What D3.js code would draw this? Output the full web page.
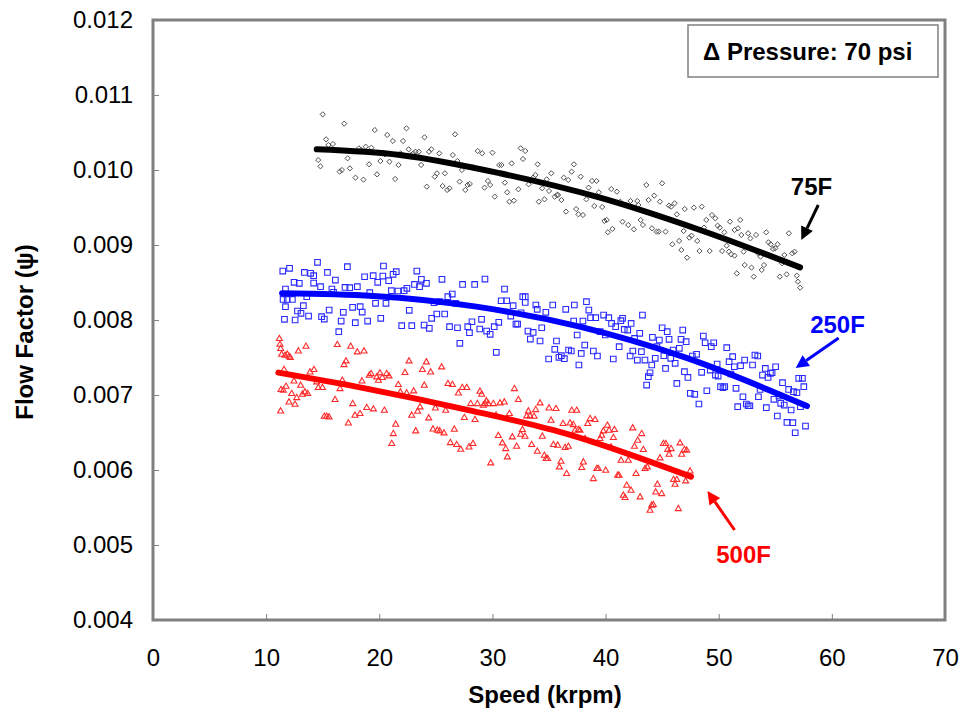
<!DOCTYPE html>
<html><head><meta charset="utf-8">
<script src="https://cdn.jsdelivr.net/npm/d3@7"></script>
<style>html,body{margin:0;padding:0;background:#fff}svg{display:block}</style>
</head><body>
<svg id="chart" width="960" height="711"></svg>
<script>
// ---- data (speed krpm, flow factor) ----
const xTicks = [0,10,20,30,40,50,60,70];
const yTicks = [0.004,0.005,0.006,0.007,0.008,0.009,0.010,0.011,0.012];
const seriesNames = ["75F","250F","500F"];
const legendText = "\u0394 Pressure: 70 psi";

const pts75 = [[15.0,0.010742],[16.9,0.010618],[15.3,0.010409],[15.5,0.010333],[15.9,0.010347],[14.6,0.010133],[14.8,0.010049],[16.5,0.009978],[16.7,0.010000],[17.2,0.010156],[17.4,0.010022],[17.9,0.009898],[18.2,0.010289],[18.4,0.010267],[18.8,0.010311],[19.3,0.010298],[18.6,0.009871],[19.1,0.010076],[19.6,0.010533],[19.8,0.009942],[20.1,0.010120],[20.5,0.010209],[20.7,0.010467],[20.9,0.010111],[21.2,0.010387],[21.4,0.009880],[21.7,0.010067],[21.9,0.010222],[22.1,0.010387],[22.4,0.010556],[22.6,0.010276],[22.8,0.010200],[23.0,0.010222],[23.2,0.010244],[23.5,0.010244],[23.7,0.010067],[24.0,0.010436],[24.2,0.009778],[24.4,0.010244],[24.6,0.010276],[24.9,0.009911],[25.1,0.009956],[25.3,0.010222],[25.6,0.009787],[25.8,0.009956],[26.0,0.009734],[26.2,0.009756],[26.5,0.010200],[26.7,0.010476],[26.9,0.010120],[27.1,0.009845],[27.3,0.010000],[27.6,0.009734],[27.8,0.009800],[28.0,0.009814],[28.3,0.010036],[28.7,0.010254],[29.1,0.010222],[29.3,0.009765],[29.6,0.009854],[29.8,0.009800],[30.0,0.010231],[30.2,0.009645],[30.6,0.010067],[30.8,0.010067],[31.1,0.009831],[31.3,0.009703],[31.5,0.009578],[31.7,0.010089],[31.9,0.009591],[32.3,0.009743],[32.5,0.010289],[32.7,0.010147],[32.9,0.010254],[33.2,0.009809],[33.6,0.009898],[33.8,0.009934],[34.0,0.010076],[34.1,0.009578],[34.4,0.009756],[34.6,0.009609],[34.8,0.009876],[35.0,0.009720],[35.2,0.009956],[35.5,0.009645],[35.7,0.009667],[35.8,0.009667],[36.1,0.009600],[36.3,0.009898],[36.5,0.009445],[36.7,0.009867],[37.0,0.009978],[37.2,0.010076],[37.4,0.009480],[37.6,0.009409],[37.8,0.009911],[38.0,0.009400],[38.3,0.009609],[38.5,0.009765],[38.8,0.009854],[39.0,0.009520],[39.2,0.009854],[39.4,0.009703],[39.7,0.009507],[39.9,0.009320],[40.1,0.009334],[40.2,0.009169],[40.5,0.009747],[40.6,0.009214],[41.0,0.009711],[41.3,0.009578],[41.5,0.009311],[41.8,0.009534],[42.0,0.009267],[42.2,0.009587],[42.5,0.009209],[42.8,0.009587],[42.9,0.009534],[43.1,0.009334],[43.3,0.009267],[43.6,0.009800],[43.8,0.009600],[44.1,0.009223],[44.3,0.009658],[44.5,0.009178],[44.7,0.009178],[44.8,0.009578],[45.0,0.009823],[45.3,0.009178],[45.6,0.009525],[45.8,0.009511],[45.9,0.009009],[46.1,0.009556],[46.3,0.009409],[46.5,0.009054],[46.7,0.008934],[46.9,0.009187],[47.0,0.009480],[47.2,0.008831],[47.4,0.009098],[47.6,0.009125],[47.8,0.009498],[48.1,0.009054],[48.3,0.008920],[48.5,0.009511],[48.7,0.009231],[48.9,0.009334],[49.2,0.008920],[49.4,0.009400],[49.7,0.009356],[49.9,0.009258],[50.1,0.009231],[50.3,0.008920],[50.5,0.009169],[50.7,0.008991],[50.9,0.008911],[51.0,0.009311],[51.1,0.008876],[51.4,0.008858],[51.4,0.009200],[51.6,0.008622],[51.7,0.009223],[51.9,0.009334],[52.0,0.009134],[52.2,0.008911],[52.3,0.008733],[52.6,0.009156],[52.8,0.009089],[52.9,0.008698],[53.1,0.008578],[53.3,0.009134],[53.5,0.008889],[53.7,0.008845],[53.8,0.008667],[54.0,0.008733],[54.2,0.009169],[54.4,0.009036],[54.6,0.009009],[54.8,0.008947],[55.0,0.008956],[55.2,0.009009],[55.4,0.008578],[55.6,0.008756],[55.8,0.008867],[56.0,0.008609],[56.2,0.009156],[56.5,0.008889],[56.7,0.008911],[56.9,0.008591],[57.0,0.008511],[57.2,0.008431]];

const pts250 = [[11.47,0.008653],[12.07,0.008689],[11.71,0.008413],[11.50,0.008275],[11.86,0.008275],[12.32,0.008275],[11.71,0.008178],[11.62,0.008009],[12.77,0.008120],[12.56,0.008000],[13.08,0.008089],[13.29,0.008191],[12.47,0.008502],[12.93,0.008489],[13.38,0.008635],[13.93,0.008622],[14.20,0.008591],[14.20,0.008493],[14.54,0.008769],[13.59,0.008311],[13.75,0.008053],[14.81,0.008444],[14.90,0.008044],[15.14,0.008013],[15.42,0.008635],[15.57,0.008133],[15.81,0.008413],[15.96,0.008369],[16.12,0.008533],[16.42,0.007844],[16.63,0.007986],[16.82,0.008102],[17.18,0.008711],[16.97,0.008435],[17.39,0.008431],[17.64,0.008169],[17.88,0.007964],[18.06,0.008444],[18.31,0.008178],[18.49,0.008106],[18.70,0.008577],[18.97,0.007986],[19.16,0.008364],[19.46,0.008591],[19.67,0.008222],[19.86,0.008502],[20.13,0.008022],[20.37,0.008720],[20.31,0.008586],[20.59,0.008222],[20.83,0.008524],[21.07,0.008391],[21.22,0.008609],[21.50,0.008644],[21.65,0.008387],[21.98,0.007924],[22.20,0.008391],[22.44,0.008422],[22.65,0.008129],[22.87,0.007924],[23.11,0.008475],[23.32,0.008653],[23.56,0.008444],[23.72,0.008542],[23.96,0.007933],[24.17,0.008489],[24.42,0.007889],[24.63,0.008022],[24.84,0.008231],[25.08,0.008080],[25.33,0.008244],[25.54,0.008542],[25.78,0.008080],[26.06,0.008311],[26.21,0.007911],[26.45,0.008346],[26.76,0.008222],[26.91,0.007897],[27.12,0.007689],[27.36,0.008475],[27.82,0.007911],[27.97,0.007831],[28.19,0.007977],[28.43,0.008475],[28.88,0.007880],[29.04,0.008009],[29.34,0.008546],[29.49,0.007853],[29.80,0.007809],[30.16,0.007911],[30.34,0.007569],[30.56,0.007969],[30.77,0.008257],[31.07,0.008413],[31.26,0.008257],[31.62,0.008053],[31.83,0.008191],[32.08,0.007946],[32.23,0.007946],[32.53,0.008097],[32.68,0.008311],[32.90,0.008311],[32.90,0.008235],[33.14,0.007853],[33.35,0.007746],[33.60,0.007835],[33.84,0.008200],[33.96,0.008142],[34.21,0.007720],[34.36,0.007897],[34.72,0.008102],[34.97,0.007480],[35.33,0.008200],[35.51,0.007609],[35.66,0.007720],[35.88,0.007502],[36.09,0.007524],[36.36,0.007484],[36.48,0.008142],[36.73,0.007600],[36.97,0.007587],[37.18,0.007986],[37.24,0.008200],[37.49,0.007800],[37.64,0.007400],[37.85,0.007555],[38.00,0.007986],[38.16,0.007666],[38.31,0.008244],[38.52,0.008133],[38.67,0.008031],[38.92,0.007587],[39.13,0.008031],[39.28,0.007520],[39.52,0.007844],[39.83,0.008066],[39.98,0.007800],[40.28,0.008031],[40.53,0.007955],[40.68,0.007480],[40.89,0.007911],[41.20,0.007644],[41.35,0.007991],[41.50,0.008022],[41.65,0.007875],[41.96,0.007866],[42.17,0.007520],[42.26,0.007955],[42.41,0.007587],[42.56,0.007755],[42.81,0.007466],[43.02,0.007822],[43.17,0.007578],[43.26,0.008066],[43.48,0.007466],[43.63,0.007133],[43.78,0.007244],[43.93,0.007297],[44.08,0.007400],[44.14,0.007769],[44.39,0.007489],[44.54,0.007644],[44.75,0.007733],[45.00,0.007897],[45.15,0.007524],[45.30,0.007355],[45.45,0.007844],[45.61,0.007742],[45.76,0.007489],[45.97,0.007600],[46.15,0.007422],[46.30,0.007155],[46.52,0.007622],[46.67,0.007742],[46.82,0.007866],[46.97,0.007311],[47.12,0.007711],[47.28,0.007235],[47.49,0.007022],[47.67,0.007520],[47.88,0.007009],[48.04,0.007542],[48.25,0.006880],[48.49,0.007302],[48.64,0.007786],[48.80,0.007697],[48.95,0.007057],[49.25,0.007333],[49.34,0.007644],[49.56,0.007697],[49.71,0.007266],[49.86,0.007413],[49.95,0.007253],[50.16,0.007111],[50.38,0.007097],[50.53,0.007111],[50.71,0.007631],[50.92,0.007444],[51.08,0.007280],[51.23,0.007511],[51.38,0.007377],[51.53,0.007089],[51.68,0.006844],[51.93,0.007391],[52.14,0.006977],[52.29,0.007466],[52.44,0.006880],[52.60,0.006857],[52.75,0.006857],[52.99,0.007400],[53.20,0.007533],[53.45,0.007520],[53.51,0.006977],[53.66,0.007075],[53.87,0.007266],[54.12,0.007355],[54.21,0.006831],[54.36,0.007235],[54.57,0.007289],[54.72,0.007297],[54.88,0.006942],[55.03,0.007377],[55.18,0.006720],[55.33,0.006986],[55.48,0.006889],[55.64,0.007164],[55.79,0.006866],[56.03,0.006635],[56.18,0.007075],[56.40,0.006800],[56.55,0.006631],[56.61,0.007044],[56.76,0.006497],[56.91,0.007031],[57.07,0.007222],[57.22,0.006844],[57.40,0.007222],[57.52,0.007111],[57.67,0.006586]];

const pts500 = [[11.17,0.007756],[11.22,0.007680],[11.28,0.007623],[11.37,0.007547],[11.67,0.007533],[11.87,0.007547],[12.02,0.007520],[12.14,0.007503],[12.85,0.007591],[13.52,0.007653],[11.58,0.007343],[11.31,0.007076],[11.52,0.007067],[11.76,0.007120],[11.28,0.006791],[12.02,0.006911],[12.26,0.007023],[12.46,0.007191],[12.55,0.006880],[12.70,0.006969],[13.05,0.007134],[13.20,0.007014],[13.43,0.007045],[13.67,0.007023],[13.88,0.007311],[14.23,0.007343],[14.47,0.007178],[14.61,0.007103],[14.97,0.007103],[15.14,0.006720],[15.35,0.006720],[15.56,0.006711],[16.09,0.006943],[16.29,0.007676],[16.53,0.007089],[16.73,0.007200],[16.88,0.007409],[17.06,0.007458],[17.27,0.006631],[17.47,0.007653],[17.65,0.006889],[17.85,0.006734],[18.06,0.007578],[18.30,0.006756],[18.47,0.007191],[18.65,0.007591],[18.89,0.006836],[19.12,0.007267],[19.27,0.007289],[19.48,0.006818],[19.77,0.007245],[19.92,0.007200],[20.06,0.007298],[20.27,0.007236],[20.45,0.006800],[20.65,0.007289],[20.86,0.007258],[21.10,0.006356],[21.24,0.006489],[21.45,0.006614],[21.68,0.007143],[21.86,0.007045],[22.27,0.007303],[22.42,0.007031],[22.63,0.007458],[22.86,0.006734],[23.04,0.007058],[23.22,0.006525],[23.39,0.006787],[23.60,0.006845],[23.81,0.007343],[23.98,0.007134],[24.16,0.007445],[24.37,0.006698],[24.54,0.007311],[24.75,0.006551],[24.96,0.006831],[25.13,0.006534],[25.34,0.006525],[25.51,0.007378],[25.72,0.006498],[25.87,0.006800],[26.07,0.007156],[26.28,0.006369],[26.46,0.007143],[26.63,0.006547],[26.84,0.006343],[26.99,0.007031],[27.20,0.006280],[27.34,0.007103],[27.52,0.006703],[27.73,0.007103],[27.93,0.006311],[28.08,0.006889],[28.28,0.006356],[28.46,0.006676],[28.67,0.006889],[28.90,0.007054],[29.05,0.007014],[29.20,0.006867],[29.35,0.006889],[29.46,0.006925],[29.64,0.006889],[29.85,0.006098],[30.08,0.006889],[30.32,0.006734],[30.52,0.006463],[30.67,0.006898],[30.88,0.006365],[31.05,0.006911],[31.17,0.006289],[31.32,0.006178],[31.50,0.006756],[31.76,0.006445],[31.94,0.007089],[32.14,0.006320],[32.29,0.006943],[32.50,0.006480],[32.65,0.006543],[32.88,0.006454],[33.03,0.006725],[33.18,0.006791],[33.32,0.006725],[33.47,0.006343],[33.68,0.006720],[33.82,0.006809],[33.97,0.006254],[34.21,0.006898],[34.41,0.006454],[34.59,0.006200],[34.74,0.006156],[34.88,0.006156],[35.00,0.006831],[35.18,0.006667],[35.39,0.006343],[35.62,0.006823],[35.77,0.006334],[35.92,0.006045],[36.06,0.006120],[36.24,0.006623],[36.42,0.006303],[36.56,0.005956],[36.71,0.006320],[36.86,0.006631],[37.01,0.006800],[37.15,0.006609],[37.30,0.006534],[37.45,0.006800],[37.60,0.006543],[37.74,0.006534],[37.89,0.006036],[38.04,0.006111],[38.19,0.006423],[38.42,0.006623],[38.63,0.006689],[38.92,0.005889],[39.07,0.006676],[39.22,0.006023],[39.36,0.006023],[39.51,0.006423],[39.66,0.006467],[39.80,0.006525],[40.01,0.006000],[40.16,0.006600],[40.31,0.006534],[40.48,0.006311],[40.69,0.006436],[40.78,0.006543],[41.07,0.005934],[41.19,0.005934],[41.37,0.006134],[41.57,0.005667],[41.72,0.005636],[41.87,0.005800],[42.01,0.006134],[42.25,0.005734],[42.40,0.006565],[42.55,0.006320],[42.69,0.005956],[42.84,0.006400],[43.05,0.005645],[43.19,0.006489],[43.34,0.006276],[43.49,0.006023],[43.69,0.006045],[43.93,0.005467],[44.08,0.005534],[44.22,0.005543],[44.43,0.005711],[44.58,0.005814],[44.81,0.006165],[44.96,0.005689],[45.11,0.006356],[45.32,0.006356],[45.49,0.006276],[45.61,0.006214],[45.79,0.006289],[46.01,0.005876],[46.14,0.005814],[46.29,0.005876],[46.43,0.005489],[46.58,0.006365],[46.73,0.006214],[46.97,0.006276],[47.17,0.006267],[47.08,0.005858],[47.47,0.005991]];

// trend curves
const trend75 = [[14.47,0.010276],[21.83,0.010200],[30.67,0.009956],[39.51,0.009631],[48.35,0.009200],[57.19,0.008702]];
const trend250 = [[11.41,0.008356],[19.46,0.008320],[28.58,0.008178],[37.71,0.007911],[46.83,0.007511],[57.80,0.006853]];
const trend500 = [[11.08,0.007298],[18.74,0.007089],[27.58,0.006809],[36.42,0.006489],[47.55,0.005911]];

// annotation anchors (data units): label pos, arrow start, arrow end
const labelPos = [[58.2,0.009667],[60.5,0.007827],[52.2,0.004760]];
const arrowFrom = [[58.8,0.009533],[60.6,0.007760],[51.4,0.005200]];
const arrowTo = [[57.3,0.009067],[56.8,0.007360],[49.0,0.005720]];

// ---- drawing ----
const svg = d3.select("#chart");
const M = {left:153, top:20, right:945, bottom:620};
const x = d3.scaleLinear().domain([0,70]).range([M.left, M.right]);
const y = d3.scaleLinear().domain([0.004,0.012]).range([M.bottom, M.top]);
const FONT = "Liberation Sans, Arial, Helvetica, sans-serif";
const colors = ["#000000","#0000ff","#ff0000"];
const markerColors = ["#505050","#2a2aff","#ff2a2a"];

// frame
svg.append("rect").attr("x",M.left).attr("y",M.top)
  .attr("width",M.right-M.left).attr("height",M.bottom-M.top)
  .attr("fill","none").attr("stroke","#808080").attr("stroke-width",3);

// y axis (ticks inside, labels left)
const yAxis = d3.axisLeft(y).tickValues(yTicks).tickSizeInner(-6).tickSizeOuter(0)
  .tickPadding(20).tickFormat(d3.format(".3f"));
const gy = svg.append("g").attr("transform",`translate(${M.left},0)`).call(yAxis);
gy.select(".domain").remove();
gy.selectAll(".tick line").attr("stroke","#808080").attr("stroke-width",1)
  .filter(d => d===0.004 || d===0.012).remove();
gy.selectAll(".tick text").attr("font-family",FONT).attr("font-size",24).attr("fill","#000");

// x axis
const xAxis = d3.axisBottom(x).tickValues(xTicks).tickSizeInner(-6).tickSizeOuter(0)
  .tickPadding(29).tickFormat(d3.format("d"));
const gx = svg.append("g").attr("transform",`translate(0,${M.bottom})`).call(xAxis);
gx.select(".domain").remove();
gx.selectAll(".tick line").attr("stroke","#808080").attr("stroke-width",1)
  .filter(d => d===0 || d===70).remove();
gx.selectAll(".tick text").attr("font-family",FONT).attr("font-size",24).attr("fill","#000");

// axis titles
svg.append("text").attr("x",(M.left+M.right)/2 - 4).attr("y",703)
  .attr("text-anchor","middle").attr("font-family",FONT).attr("font-weight","bold")
  .attr("font-size",24).text("Speed (krpm)");
svg.append("text").attr("transform",`translate(33,${(M.top+M.bottom)/2 + 12}) rotate(-90)`)
  .attr("text-anchor","middle").attr("font-family",FONT).attr("font-weight","bold")
  .attr("font-size",24).text("Flow Factor (\u03c8)");

// marker shapes
function diamond(cx,cy){const r=2.6;return `M${cx},${cy-r}L${cx+r},${cy}L${cx},${cy+r}L${cx-r},${cy}Z`;}
function square(cx,cy){const r=2.8;return `M${cx-r},${cy-r}h${2*r}v${2*r}h${-2*r}Z`;}
function triangle(cx,cy){const r=3;return `M${cx},${cy-r}L${cx+r},${cy+r*0.75}L${cx-r},${cy+r*0.75}Z`;}
const shapes = [diamond, square, triangle];
const allPts = [pts75, pts250, pts500];
const trends = [trend75, trend250, trend500];

allPts.forEach((pts,i) => {
  svg.append("g").selectAll("path").data(pts).join("path")
    .attr("d", d => shapes[i](x(d[0]), y(d[1])))
    .attr("fill","none").attr("stroke",markerColors[i]).attr("stroke-width", i===0?1:1.1);
});

const line = d3.line().x(d=>x(d[0])).y(d=>y(d[1])).curve(d3.curveMonotoneX);
trends.forEach((t,i) => {
  svg.append("path").attr("d",line(t)).attr("fill","none")
    .attr("stroke",colors[i]).attr("stroke-width",6).attr("stroke-linecap","round");
});

// annotations
seriesNames.forEach((name,i) => {
  svg.append("text").attr("x",x(labelPos[i][0])).attr("y",y(labelPos[i][1]))
    .attr("text-anchor","middle").attr("font-family",FONT).attr("font-weight","bold")
    .attr("font-size",24).attr("fill",colors[i]).text(name);
  const x1=x(arrowFrom[i][0]), y1=y(arrowFrom[i][1]), x2=x(arrowTo[i][0]), y2=y(arrowTo[i][1]);
  const ang = Math.atan2(y2-y1, x2-x1);
  const hl=13, hw=6.5;
  const bx = x2 - hl*Math.cos(ang), by = y2 - hl*Math.sin(ang);
  svg.append("line").attr("x1",x1).attr("y1",y1).attr("x2",bx).attr("y2",by)
    .attr("stroke",colors[i]).attr("stroke-width",3);
  const px = -Math.sin(ang), py = Math.cos(ang);
  svg.append("path").attr("d",`M${x2},${y2}L${bx+hw*px},${by+hw*py}L${bx-hw*px},${by-hw*py}Z`)
    .attr("fill",colors[i]);
});

// legend box
svg.append("rect").attr("x",688).attr("y",25).attr("width",250).attr("height",52)
  .attr("fill","#fff").attr("stroke","#808080").attr("stroke-width",1.5);
svg.append("text").attr("x",703).attr("y",60).attr("font-family",FONT)
  .attr("font-weight","bold").attr("font-size",24).text(legendText);
</script>
</body></html>
